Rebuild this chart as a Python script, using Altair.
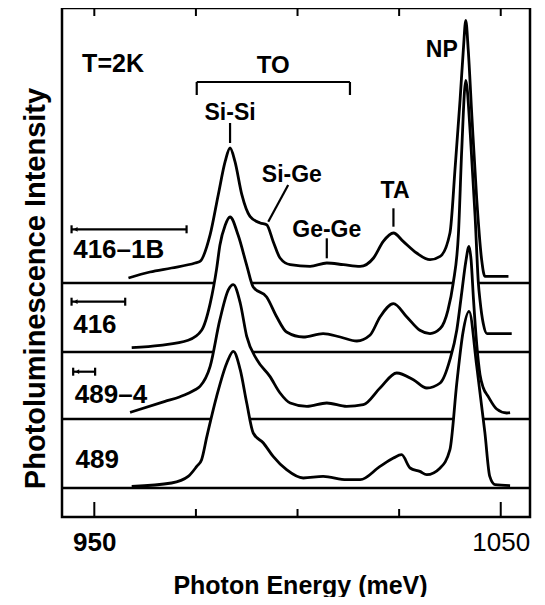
import altair as alt
import pandas as pd

# ---------------- data ----------------
samples = ["416–1B", "416", "489–4", "489"]
offsets = [234, 165, 98, 29]          # vertical offset of each spectrum (arb. units)

e1 = [958.4, 963.7, 969.0, 974.8, 976.0, 978.5, 980.5, 982.2, 983.4, 984.6, 986.3, 988.3, 990.8,
      992.4, 994.0, 995.7, 998.2, 1003.1, 1007.2, 1011.3, 1015.4, 1018.7, 1021.1, 1023.6, 1026.0,
      1029.3, 1032.6, 1035.1, 1037.5, 1038.8, 1040.0, 1040.8, 1041.4, 1042.0, 1042.9, 1044.1,
      1045.3, 1046.1, 1051.9]
i1 = [5, 11, 15, 20, 21.6, 48.3, 88.3, 121.6, 135, 121.6, 88.3, 66.6, 60, 58.3, 41.6, 25, 18.3,
      16.6, 20, 18.3, 16.6, 25, 41.6, 50, 41.6, 30, 23.3, 26.6, 50, 116.6, 183.3, 233.3, 262.6,
      233.3, 166.6, 83.3, 23.3, 6.6, 6.6]

e2 = [959.2, 966.2, 973.1, 976.4, 978.5, 980.1, 980.9, 982.2, 983.4, 985.4, 987.5, 989.1, 992.4,
      994.9, 997.3, 1001.4, 1006.3, 1010.5, 1014.6, 1017.8, 1020.3, 1023.6, 1026.9, 1030.1,
      1032.6, 1035.1, 1037.0, 1038.3, 1039.6, 1040.4, 1041.4, 1042.5, 1043.7, 1044.5, 1044.9,
      1045.7, 1046.6, 1052.7]
i2 = [4.4, 6.7, 11.7, 21.7, 48.4, 83.4, 106.7, 126.7, 135, 116.7, 86.7, 65, 55, 35, 20, 15, 18.4,
      15, 11, 16.7, 35, 48.4, 35, 21.7, 18.4, 23.4, 41.7, 68.7, 118.7, 201.7, 271.7, 218.7, 135,
      68.7, 51.7, 28.4, 18.4, 18.4]

e3 = [958.8, 967.4, 971.1, 974.8, 976.0, 978.5, 980.9, 983.0, 984.2, 985.9, 987.5, 990.0, 993.2,
      995.7, 998.2, 1002.3, 1007.2, 1012.1, 1016.2, 1020.3, 1024.4, 1028.5, 1031.8, 1035.1,
      1037.5, 1039.2, 1040.4, 1041.4, 1042.2, 1042.7, 1043.3, 1044.1, 1044.9, 1045.7, 1046.9,
      1049.0, 1051.5, 1052.3]
i3 = [6.6, 17.6, 22.3, 29.3, 32.6, 52.6, 99.3, 129.3, 134.3, 116, 82.6, 59.3, 42.6, 26, 16, 12.6,
      16, 12.6, 14.3, 31, 46, 39.3, 31, 36, 59.3, 89.3, 126.3, 157.3, 172.6, 159.3, 119.3, 74.3,
      44.3, 31.3, 22.6, 10, 6, 6.3]

e4 = [959.2, 969.0, 973.1, 975.2, 976.4, 977.7, 980.1, 982.6, 984.2, 985.9, 987.5, 989.1, 991.6,
      994.0, 997.3, 1001.4, 1006.3, 1012.1, 1015.4, 1020.3, 1023.6, 1025.6, 1027.7, 1030.1,
      1031.8, 1035.1, 1037.5, 1039.2, 1040.7, 1042.2, 1044.1, 1046.1, 1047.3, 1048.6, 1052.3]
i4 = [1.6, 5, 11.6, 21.6, 28.3, 51.6, 91.6, 125, 136.6, 118.3, 85, 55, 45, 31.6, 18.3, 10, 11.6,
      8.3, 8.3, 21.6, 30, 33.3, 20, 16.6, 13.3, 20, 38.3, 105.3, 155.3, 176.6, 121.6, 55.3, 11.6,
      3.3, 2.3]

# resolution bars drawn next to the sample names (start energy, end energy, level)
bar_start = [944.4, 944.4, 944.8]
bar_end = [972.7, 957.6, 950.2]
bar_level = [287.7, 215.3, 145.3]

# sample-name labels
name_x = [944.8, 944.8, 945.2, 945.4]
name_y = [259, 184, 114, 49]

# peak annotations
peak_text = ["Si-Si", "Si-Ge", "Ge-Ge", "TA", "NP"]
peak_x = [983.4, 998.6, 1007.2, 1024.0, 1035.5]
peak_y = [397, 335.3, 280.3, 318.7, 460.3]

# annotation strokes (TO bracket, peak pointers)
mk_x = [975.2, 975.2, 1012.9, 983.4, 997.7, 1007.2, 1023.6]
mk_x2 = [1012.9, 975.2, 1012.9, 983.4, 992.8, 1007.2, 1023.6]
mk_y = [435, 435, 435, 394, 332, 278.7, 308.7]
mk_y2 = [435, 422, 422, 374, 295.3, 258.7, 290.3]

major_ticks = [950, 1050]
minor_ticks = [975, 1000, 1025]
all_ticks = [950, 975, 1000, 1025, 1050]

# ---------------- chart ----------------
W, H = 468, 509
FONT = "Liberation Sans"
xs = alt.Scale(domain=[942.05, 1057.2], nice=False, zero=False)
ys = alt.Scale(domain=[0, 509], nice=False, zero=False)

xaxis = alt.Axis(values=[950, 1050], format="d", title="Photon Energy (meV)", grid=False,
                 domain=False, ticks=False, tickSize=0, labelPadding=12, labelFontSize=26,
                 labelFont=FONT, labelColor="black",
                 labelFontWeight={"condition": {"test": "datum.value == 1050", "value": "normal"},
                                  "value": "bold"},
                 titleFont=FONT, titleFontSize=25, titleFontWeight="bold", titleColor="black",
                 titleBaseline="alphabetic", titleY=76, titleX=238)
yaxis = alt.Axis(title="Photoluminescence Intensity", grid=False, domain=False, ticks=False,
                 labels=False, titleFont=FONT, titleFontSize=29, titleFontWeight="bold",
                 titleColor="black", titleAngle=270, titleBaseline="alphabetic",
                 titleX=-18, titleY=280)


def X(f):
    return alt.X(f, type="quantitative", scale=xs, axis=xaxis)


def Y(f):
    return alt.Y(f, type="quantitative", scale=ys, axis=yaxis)


rows = []
for name, off, es, ins in zip(samples, offsets, [e1, e2, e3, e4], [i1, i2, i3, i4]):
    for e, v in zip(es, ins):
        rows.append({"sample": name, "energy": e, "y": off + v, "base": off})
df = pd.DataFrame(rows)

layers = []
for k, name in enumerate(samples):
    sub = df[df["sample"] == name]
    layers.append(alt.Chart(sub).mark_area(color="white", interpolate="monotone")
                  .encode(x=X("energy"), y=Y("y"), y2="base:Q"))
    layers.append(alt.Chart(pd.DataFrame({"b": [offsets[k]]}))
                  .mark_rule(color="black", strokeWidth=2.5)
                  .encode(y=Y("b"), x=alt.value(0), x2=alt.value(W)))
    layers.append(alt.Chart(sub).mark_line(color="black", strokeWidth=2.8, interpolate="monotone")
                  .encode(x=X("energy"), y=Y("y")))

# frame ticks (inward)
layers.append(alt.Chart(pd.DataFrame({"t": all_ticks})).mark_rule(color="black", strokeWidth=2)
              .encode(x=X("t"), y=alt.value(0), y2=alt.value(8)))
layers.append(alt.Chart(pd.DataFrame({"t": major_ticks})).mark_rule(color="black", strokeWidth=2)
              .encode(x=X("t"), y=alt.value(H), y2=alt.value(H - 15)))
layers.append(alt.Chart(pd.DataFrame({"t": minor_ticks})).mark_rule(color="black", strokeWidth=2)
              .encode(x=X("t"), y=alt.value(H), y2=alt.value(H - 8)))

# annotation strokes
mk = pd.DataFrame({"x": mk_x, "x2": mk_x2, "y": mk_y, "y2": mk_y2})
layers.append(alt.Chart(mk).mark_rule(color="black", strokeWidth=2.2)
              .encode(x=X("x"), x2="x2:Q", y=Y("y"), y2="y2:Q"))

# resolution bars
bars = pd.DataFrame({"x": bar_start, "x2": bar_end, "y": bar_level})
caps = pd.DataFrame({"x": bar_start + bar_end, "y": bar_level + bar_level})
caps["lo"] = caps["y"] - 4
caps["hi"] = caps["y"] + 4
layers.append(alt.Chart(bars).mark_rule(color="black", strokeWidth=2.2)
              .encode(x=X("x"), x2="x2:Q", y=Y("y")))
layers.append(alt.Chart(caps).mark_rule(color="black", strokeWidth=2.2)
              .encode(x=X("x"), y=Y("lo"), y2="hi:Q"))
layers.append(alt.Chart(bars).mark_point(shape="triangle-left", filled=True, color="black",
                                         size=22, opacity=1, xOffset=4)
              .encode(x=X("x"), y=Y("y")))

# texts
names = pd.DataFrame({"t": samples, "x": name_x, "y": name_y})
layers.append(alt.Chart(names).mark_text(align="left", baseline="alphabetic", font=FONT,
                                         fontSize=26, fontWeight="bold", color="black")
              .encode(x=X("x"), y=Y("y"), text="t:N"))
layers.append(alt.Chart(pd.DataFrame({"t": ["T=2K"], "x": [947.0], "y": [445]}))
              .mark_text(align="left", baseline="alphabetic", font=FONT, fontSize=25,
                         fontWeight="bold", color="black")
              .encode(x=X("x"), y=Y("y"), text="t:N"))
layers.append(alt.Chart(pd.DataFrame({"t": ["TO"], "x": [994.0], "y": [444]}))
              .mark_text(align="center", baseline="alphabetic", font=FONT, fontSize=24,
                         fontWeight="bold", color="black")
              .encode(x=X("x"), y=Y("y"), text="t:N"))
peaks = pd.DataFrame({"t": peak_text, "x": peak_x, "y": peak_y})
layers.append(alt.Chart(peaks).mark_text(align="center", baseline="alphabetic", font=FONT,
                                         fontSize=23, fontWeight="bold", color="black")
              .encode(x=X("x"), y=Y("y"), text="t:N"))

chart = alt.layer(*layers).properties(
    width=W, height=H,
    autosize=alt.AutoSizeParams(type="none"),
    padding={"left": 54, "top": 0, "right": 7, "bottom": 80},
    background="white",
).configure_view(stroke="black", strokeWidth=2.5)

chart.save("out.html", embed_options={"renderer": "svg", "actions": False})
